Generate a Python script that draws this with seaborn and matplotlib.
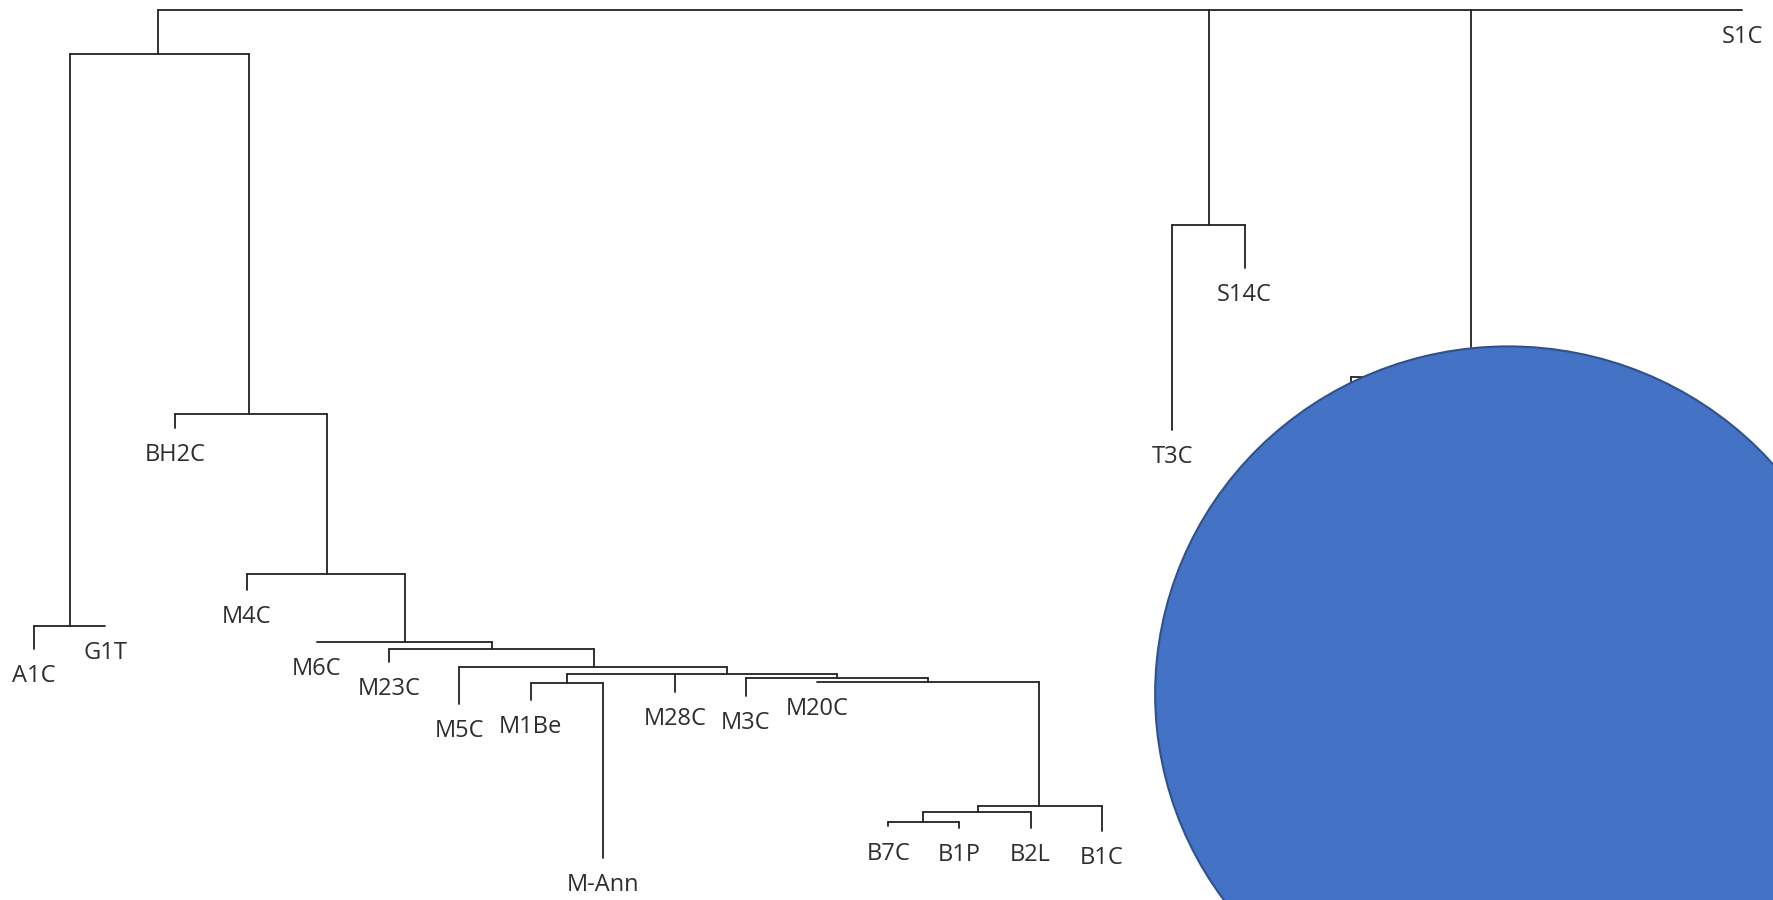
import matplotlib
matplotlib.use("Agg")
import matplotlib.pyplot as plt
import seaborn as sns
import pandas as pd
from matplotlib.patches import Ellipse

# ---- data (canvas units, y grows downward) ----
# leaves: label, x position, tip depth
leaf_ids = ["A1C", "G1T", "BH2C", "M4C", "M6C", "M23C", "M5C", "M1Be", "M-Ann",
            "M28C", "M3C", "M20C", "B7C", "B1P", "B2L", "B1C", "T3C", "S14C",
            "S1C", "X1", "X2"]
leaf_x = [30, 93, 155, 218, 280, 344, 406, 469, 533,
          597, 659, 722, 785, 848, 911, 974, 1036, 1100,
          1540, 1194, 1406]
leaf_tip = [573, 553, 378, 521, 567, 585, 622, 618, 758,
            611, 615, 602, 730, 731, 731, 734, 380, 237,
            9, 345, 345]
hidden_leaves = ["X1", "X2"]  # covered by the blue disc

# internal nodes: id, junction x, height, children
node_ids = ["root", "L", "AG", "BH", "MM", "A", "B", "C", "D", "E", "F", "G",
            "H", "I", "J", "TS", "HID"]
node_x = [140, 140, 62, 220, 289, 358, 435, 525, 643, 501, 740, 820,
          918, 864, 815.5, 1069, 1300]
node_y = [9, 48, 553, 366, 507, 567, 573, 589, 595, 603, 599, 602,
          711.6, 717, 726, 199, 333]
node_children = [["L", "TS", "HID", "S1C"], ["AG", "BH"], ["A1C", "G1T"],
                 ["BH2C", "MM"], ["M4C", "A"], ["M6C", "B"], ["M23C", "C"],
                 ["M5C", "D"], ["E", "M28C", "F"], ["M1Be", "M-Ann"],
                 ["M3C", "G"], ["M20C", "H"], ["I", "B1C"], ["J", "B2L"],
                 ["B7C", "B1P"], ["T3C", "S14C"], ["X1", "X2"]]

# disc overlay
disc_center = (1333, 613)
disc_w, disc_h = 624, 614

# ---- build segments ----
pos = {}
for n, x, y in zip(leaf_ids, leaf_x, leaf_tip):
    pos[n] = (x, y)
for n, x, y in zip(node_ids, node_x, node_y):
    pos[n] = (x, y)

rows = []
seg = 0
for n, ch in zip(node_ids, node_children):
    nx, ny = pos[n]
    xs = [pos[c][0] for c in ch]
    rows += [(seg, min(xs), ny), (seg, max(xs), ny)]
    seg += 1
    for c in ch:
        cx, cy = pos[c]
        if abs(cy - ny) > 0.1:
            rows += [(seg, cx, ny), (seg, cx, cy)]
            seg += 1
df = pd.DataFrame(rows, columns=["seg", "x", "y"])

# ---- draw ----
sns.set_theme(style="white")
plt.rcParams["font.family"] = ["Open Sans", "DejaVu Sans"]

fig = plt.figure(figsize=(17.74, 9.0), dpi=100)
ax = fig.add_axes([0, 0, 1, 1])
sns.lineplot(data=df, x="x", y="y", units="seg", estimator=None, sort=False,
             color="#222222", linewidth=1.3, ax=ax, legend=False)

for n, x, y in zip(leaf_ids, leaf_x, leaf_tip):
    if n in hidden_leaves:
        continue
    ax.text(x, y + 24, n, ha="center", va="center", fontsize=17,
            color="#2e2e2e", zorder=3)

ax.add_patch(Ellipse(disc_center, disc_w, disc_h, facecolor="#4472C4",
                     edgecolor="#2F528F", linewidth=1.5, zorder=5))

ax.set_xlim(0, 1568)
ax.set_ylim(795, 0)
ax.set_axis_off()
fig.savefig("out.png", dpi=100)
